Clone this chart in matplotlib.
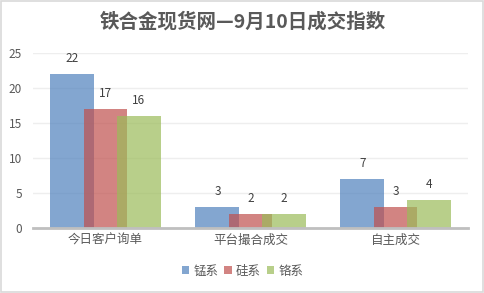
import matplotlib
matplotlib.use("Agg")
import matplotlib.pyplot as plt
import numpy as np
from matplotlib.patches import Rectangle

plt.rcParams['font.family'] = ['Noto Sans CJK SC', 'DejaVu Sans']

categories = ["今日客户询单", "平台撮合成交", "自主成交"]
series_names = ["锰系", "硅系", "铬系"]
mn_vals = [22, 3, 7]
si_vals = [17, 2, 3]
cr_vals = [16, 2, 4]
colors = ["#4F81BD", "#C0504D", "#9BBB59"]

fig = plt.figure(figsize=(4.85, 2.93), dpi=100)
ax = fig.add_axes([33 / 485, 1 - 228 / 293, 435 / 485, 175 / 293])

x = np.arange(len(categories))
width = 0.303
offset = 0.228
for i, (name, vals, c) in enumerate(zip(series_names, [mn_vals, si_vals, cr_vals], colors)):
    pos = x + (i - 1) * offset
    ax.bar(pos, vals, width=width, color=c, alpha=0.7, label=name, zorder=2)
    for p, v in zip(pos, vals):
        ax.text(p, v + 1.3, str(v), ha="center", va="bottom", fontsize=8.5,
                color="#404040")

ax.set_xlim(-0.5, 2.5)
ax.set_ylim(0, 25)
ax.set_yticks(range(0, 26, 5))
ax.set_xticks(x)
ax.set_xticklabels(categories, fontsize=9)
ax.tick_params(axis="both", length=0, colors="#595959")
ax.tick_params(axis="y", labelsize=8.5, pad=8)
ax.tick_params(axis="x", pad=4)
ax.grid(True, axis="y", color="#EEEEEE", linewidth=1, zorder=0)
for s in ["top", "right", "left"]:
    ax.spines[s].set_visible(False)
ax.spines["bottom"].set_color("#BFBFBF")
ax.spines["bottom"].set_linewidth(2)

fig.text(0.5, 1 - 22 / 293, "铁合金现货网—9月10日成交指数", ha="center", va="center",
         fontsize=14, fontweight="bold", color="#595959")

fig.legend(loc="center", bbox_to_anchor=(0.5, 1 - 271 / 293), ncol=3, frameon=False,
           fontsize=9, handlelength=0.6, handleheight=0.6, handletextpad=0.3,
           columnspacing=0.5, labelcolor="#595959")

fig.patches.append(Rectangle((0.002, 0.003), 0.994, 0.994, transform=fig.transFigure,
                             fill=False, edgecolor="#D9D9D9", linewidth=1.2))

fig.savefig("out.png", dpi=100)
